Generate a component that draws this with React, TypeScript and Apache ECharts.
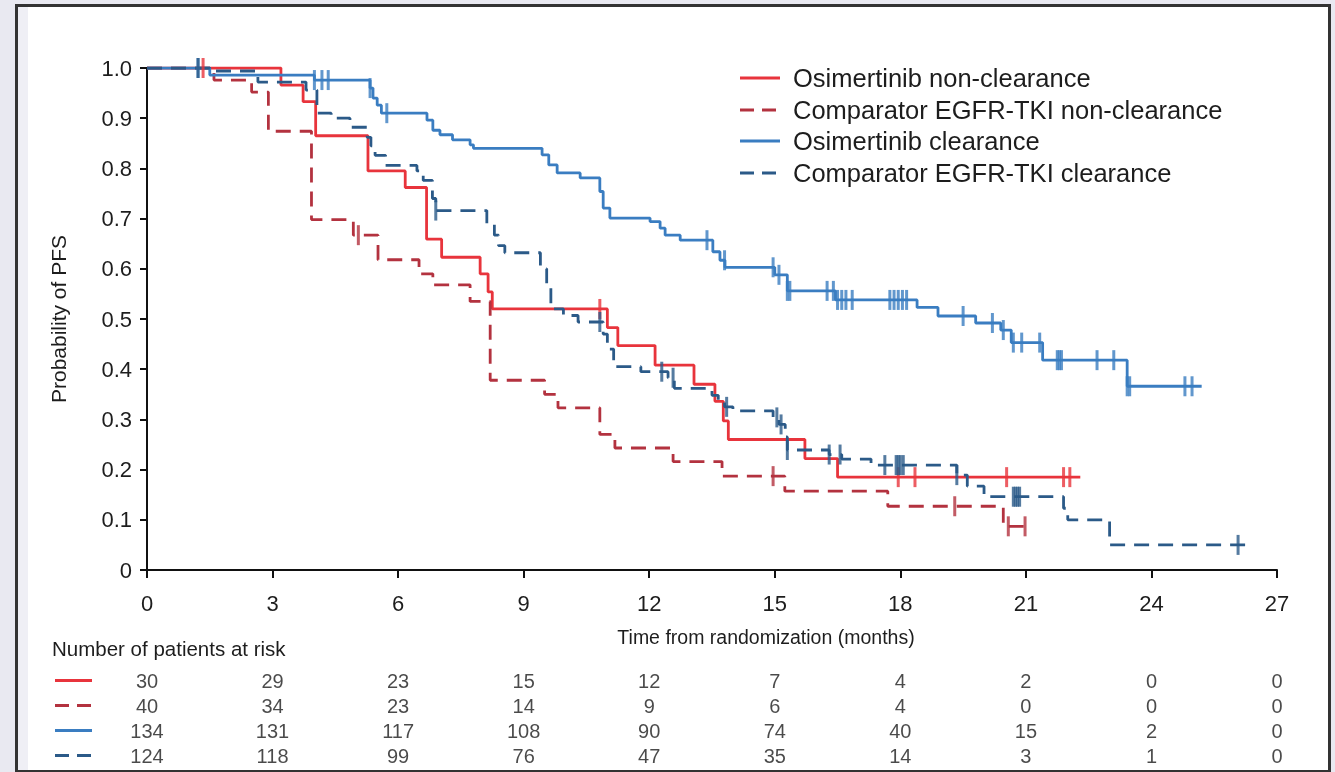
import React, { useEffect, useRef } from "react";
import * as echarts from "echarts";

const FONT = "'Liberation Sans', Arial, Helvetica, sans-serif";
const TEXT = "#1d1d1d";

const SERIES_NAMES = [
  "Osimertinib non-clearance",
  "Comparator EGFR-TKI non-clearance",
  "Osimertinib clearance",
  "Comparator EGFR-TKI clearance",
];
const COLORS = ["#e8343c", "#b3323f", "#3a7dc1", "#2b5a88"];
const DASHED = [false, true, false, true];

// Kaplan–Meier steps: [month, probability after the event]
const osiNonClearance: number[][] = [
  [0, 1], [3.2, 0.966], [3.73, 0.933], [4.03, 0.865], [5.28, 0.795], [6.17, 0.762],
  [6.68, 0.659], [7.04, 0.623], [7.96, 0.59], [8.15, 0.554], [8.25, 0.52],
  [11.0, 0.483], [11.25, 0.447], [12.14, 0.408], [13.07, 0.37], [13.57, 0.336],
  [13.77, 0.297], [13.89, 0.26], [15.72, 0.222], [16.5, 0.185],
];
const compNonClearance: number[][] = [
  [0, 1], [1.6, 0.976], [2.5, 0.952], [2.9, 0.874], [3.93, 0.698], [4.93, 0.667],
  [5.52, 0.618], [6.5, 0.59], [6.83, 0.568], [7.72, 0.535], [8.2, 0.378],
  [9.5, 0.35], [9.82, 0.323], [10.82, 0.27], [11.18, 0.243], [12.57, 0.216],
  [13.74, 0.187], [15.24, 0.157], [17.7, 0.127], [20.46, 0.087],
];
const osiClearance: number[][] = [
  [0, 1], [1.5, 0.986], [4.0, 0.976], [5.33, 0.96], [5.4, 0.94], [5.5, 0.926],
  [5.6, 0.91], [6.69, 0.896], [6.83, 0.876], [7.0, 0.867], [7.3, 0.857],
  [7.72, 0.847], [7.8, 0.84], [9.44, 0.827], [9.6, 0.807], [9.8, 0.791],
  [10.35, 0.781], [10.82, 0.754], [10.9, 0.721], [11.06, 0.701], [12.02, 0.694],
  [12.26, 0.681], [12.38, 0.667], [12.74, 0.657], [13.52, 0.634], [13.69, 0.617],
  [13.81, 0.603], [15.0, 0.588], [15.3, 0.556], [16.45, 0.538], [18.4, 0.523],
  [18.9, 0.506], [19.8, 0.492], [20.4, 0.478], [20.65, 0.453], [21.4, 0.418],
  [23.42, 0.366],
];
const compClearance: number[][] = [
  [0, 1], [1.5, 0.994], [2.65, 0.972], [3.8, 0.956], [4.06, 0.91], [4.4, 0.9],
  [4.85, 0.882], [5.26, 0.862], [5.35, 0.845], [5.45, 0.826], [5.7, 0.806],
  [6.45, 0.795], [6.6, 0.776], [6.82, 0.74], [6.9, 0.716], [8.12, 0.69],
  [8.3, 0.667], [8.4, 0.646], [8.55, 0.632], [9.4, 0.6], [9.55, 0.57],
  [9.65, 0.52], [9.95, 0.507], [10.3, 0.494], [10.9, 0.47], [11.0, 0.44],
  [11.15, 0.405], [11.8, 0.395], [12.45, 0.383], [12.6, 0.362], [13.5, 0.348],
  [13.65, 0.335], [13.8, 0.325], [14.0, 0.317], [14.96, 0.304], [15.1, 0.29],
  [15.25, 0.265], [15.3, 0.239], [16.3, 0.23], [16.6, 0.221], [17.3, 0.209],
  [19.35, 0.189], [19.6, 0.167], [20.0, 0.146], [21.9, 0.123], [22.0, 0.1],
  [23.0, 0.05],
];
const CURVES = [osiNonClearance, compNonClearance, osiClearance, compClearance];
const LAST_FOLLOW_UP = [22.3, 21.1, 25.2, 26.3];

// Censored observations (months)
const osiNonClearanceCensored = [1.34, 10.82, 17.95, 18.35, 20.54, 21.9, 22.05];
const compNonClearanceCensored = [5.05, 14.96, 19.3, 20.58, 20.98];
const osiClearanceCensored = [
  1.22, 4.0, 4.18, 4.33, 5.33, 5.73, 13.38, 13.8, 14.96, 15.1, 15.3, 15.36,
  16.25, 16.4, 16.5, 16.6, 16.7, 16.85, 17.75, 17.85, 17.95, 18.05, 18.15,
  19.5, 20.2, 20.46, 20.7, 20.9, 21.33, 21.75, 21.8, 21.85, 22.7, 23.1,
  23.42, 23.48, 24.8, 24.97,
];
const compClearanceCensored = [
  1.22, 6.9, 10.82, 12.3, 12.57, 13.85, 15.05, 15.15, 15.3, 16.3, 16.56,
  17.63, 17.9, 17.95, 18.0, 18.07, 19.35, 20.7, 20.75, 20.8, 20.85, 26.07,
];
const CENSORED = [
  osiNonClearanceCensored, compNonClearanceCensored,
  osiClearanceCensored, compClearanceCensored,
];

// Number of patients at risk
const AT_RISK_MONTHS = [0, 3, 6, 9, 12, 15, 18, 21, 24, 27];
const atRiskOsiNonClearance = [30, 29, 23, 15, 12, 7, 4, 2, 0, 0];
const atRiskCompNonClearance = [40, 34, 23, 14, 9, 6, 4, 0, 0, 0];
const atRiskOsiClearance = [134, 131, 117, 108, 90, 74, 40, 15, 2, 0];
const atRiskCompClearance = [124, 118, 99, 76, 47, 35, 14, 3, 1, 0];
const AT_RISK = [
  atRiskOsiNonClearance, atRiskCompNonClearance,
  atRiskOsiClearance, atRiskCompClearance,
];

const X_MAX = 27;
const X_STEP = 3;
const Y_STEP = 0.1;

function survivalAt(steps: number[][], t: number): number {
  let s = 1;
  for (const [x, y] of steps) {
    if (x <= t + 1e-9) s = y;
    else break;
  }
  return s;
}

const DASH = [15, 9];

export default function App() {
  const ref = useRef<HTMLDivElement>(null);

  useEffect(() => {
    if (!ref.current) return;
    const chart = echarts.init(ref.current, undefined, { renderer: "svg" });

    const lineSeries = CURVES.map((steps, i) => ({
      name: SERIES_NAMES[i],
      type: "line",
      xAxisIndex: 0,
      yAxisIndex: 0,
      step: "end",
      symbol: "none",
      data: [...steps, [LAST_FOLLOW_UP[i], steps[steps.length - 1][1]]],
      lineStyle: { color: COLORS[i], width: 2.8, type: DASHED[i] ? DASH : "solid" },
      z: 3,
    }));

    const censorSeries = CENSORED.map((times, i) => ({
      name: SERIES_NAMES[i] + " censored",
      type: "scatter",
      xAxisIndex: 0,
      yAxisIndex: 0,
      symbol: "rect",
      symbolSize: [3, 20],
      itemStyle: { color: COLORS[i] },
      data: times.map((t) => [t, survivalAt(CURVES[i], t)]),
      z: 4,
    }));

    const riskSeries = AT_RISK.map((vals, r) => ({
      name: SERIES_NAMES[r] + " at risk",
      type: "scatter",
      xAxisIndex: 1,
      yAxisIndex: 1,
      symbolSize: 1,
      itemStyle: { color: "rgba(0,0,0,0)" },
      label: {
        show: true,
        position: "inside",
        formatter: (p: any) => String(p.value[2]),
        color: TEXT,
        fontFamily: FONT,
        fontSize: 20,
      },
      data: AT_RISK_MONTHS.map((t, k) => [t, r, vals[k]]),
    }));

    chart.setOption({
      animation: false,
      backgroundColor: "transparent",
      textStyle: { fontFamily: FONT, color: TEXT },
      grid: [
        { left: 147, top: 68, width: 1130, height: 502 },
        { left: 147, top: 668, width: 1130, height: 100 },
      ],
      xAxis: [
        {
          gridIndex: 0,
          type: "value",
          min: 0,
          max: X_MAX,
          interval: X_STEP,
          name: "Time from randomization (months)",
          nameLocation: "middle",
          nameGap: 57,
          nameTextStyle: { fontSize: 19.5, color: TEXT, fontFamily: FONT, padding: [0, 0, 0, 108] },
          axisLine: { lineStyle: { color: "#111", width: 2 } },
          axisTick: { length: 8, lineStyle: { color: "#111", width: 2 } },
          axisLabel: { fontSize: 22, color: TEXT, fontFamily: FONT, margin: 22 },
          splitLine: { show: false },
        },
        { gridIndex: 1, type: "value", min: 0, max: X_MAX, show: false },
      ],
      yAxis: [
        {
          gridIndex: 0,
          type: "value",
          min: 0,
          max: 1,
          interval: Y_STEP,
          name: "Probability of PFS",
          nameLocation: "middle",
          nameRotate: 90,
          nameGap: 78,
          nameTextStyle: { fontSize: 21, color: TEXT, fontFamily: FONT },
          axisLine: { show: true, lineStyle: { color: "#111", width: 2 } },
          axisTick: { show: true, length: 7, lineStyle: { color: "#111", width: 2 } },
          axisLabel: {
            fontSize: 22,
            color: TEXT,
            fontFamily: FONT,
            margin: 15,
            formatter: (v: number) => (v === 0 ? "0" : v.toFixed(1)),
          },
          splitLine: { show: false },
        },
        { gridIndex: 1, type: "value", min: -0.5, max: 3.5, inverse: true, show: false },
      ],
      series: [...lineSeries, ...censorSeries, ...riskSeries],
    });

    // Frame, legend and the at-risk table key
    const rowY = [0, 1, 2, 3].map(
      (r) => chart.convertToPixel({ yAxisIndex: 1 } as any, r) as number
    );
    const legendY = [78, 110, 141, 173];
    const keyLine = (x1: number, x2: number, y: number, i: number, w: number) => ({
      type: "line",
      shape: { x1, y1: y, x2, y2: y },
      style: {
        stroke: COLORS[i],
        lineWidth: w,
        lineDash: DASHED[i] ? [14, 8] : null,
      },
      z: 5,
    });

    const graphics: any[] = [
      { type: "rect", shape: { x: 0, y: 0, width: 1335, height: 772 }, style: { fill: "#e9e9f1" }, z: -20 },
      {
        type: "rect",
        shape: { x: 16.5, y: 5.5, width: 1313, height: 766 },
        style: { fill: "#ffffff", stroke: "#333333", lineWidth: 3 },
        z: -19,
      },
      { type: "rect", shape: { x: 18, y: 7, width: 10, height: 763 }, style: { fill: "#efeff5" }, z: -18 },
      {
        type: "text",
        x: 52,
        y: 648,
        style: {
          text: "Number of patients at risk",
          fontSize: 20.5,
          fontFamily: FONT,
          fill: TEXT,
          verticalAlign: "middle",
        },
        z: 5,
      },
    ];
    SERIES_NAMES.forEach((name, i) => {
      graphics.push(keyLine(740, 780, legendY[i], i, 2.8));
      graphics.push({
        type: "text",
        x: 793,
        y: legendY[i],
        style: {
          text: name,
          fontSize: 25.5,
          fontFamily: FONT,
          fill: TEXT,
          verticalAlign: "middle",
        },
        z: 5,
      });
      graphics.push(keyLine(55, 92, rowY[i], i, 3));
    });

    chart.setOption({ graphic: graphics });

    return () => chart.dispose();
  }, []);

  return (
    <div
      ref={ref}
      style={{ position: "fixed", left: 0, top: 0, width: 1335, height: 772 }}
    />
  );
}
